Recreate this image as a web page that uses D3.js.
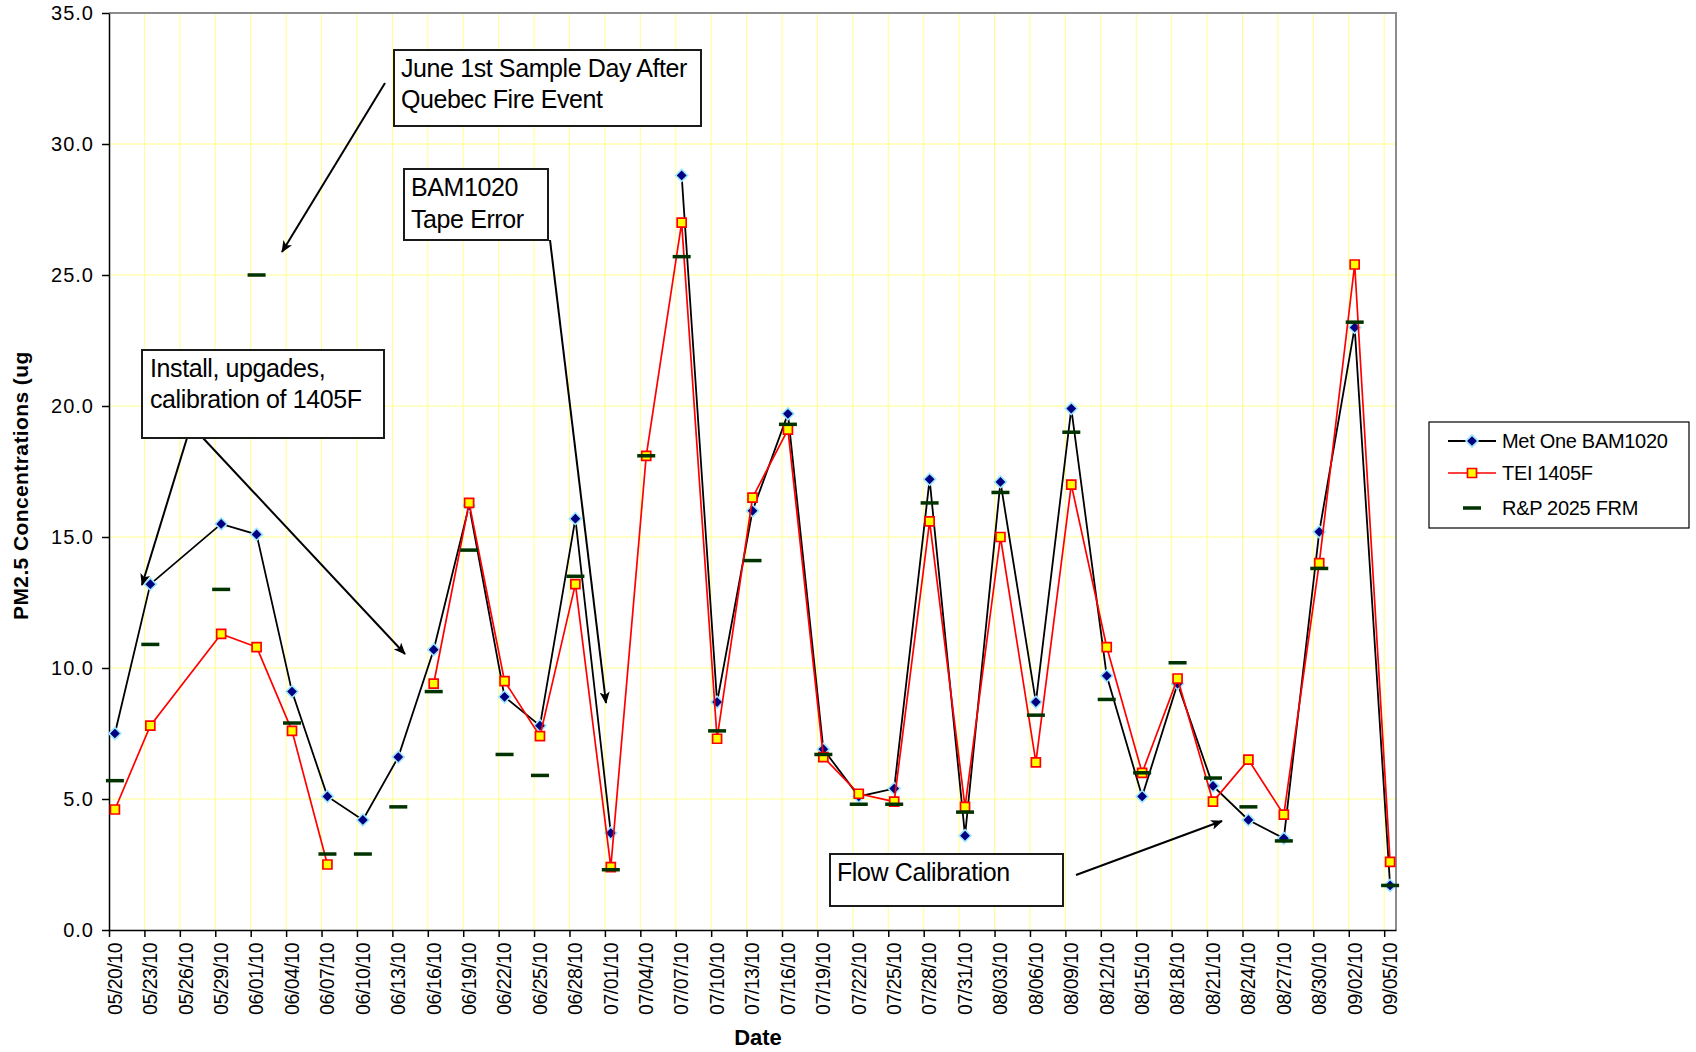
<!DOCTYPE html>
<html>
<head>
<meta charset="utf-8">
<script src="https://cdn.jsdelivr.net/npm/d3@7"></script>
<style>
	body { margin: 0; background: #fff; }
	svg text { font-family: "Liberation Sans", Arial, sans-serif; fill: #000; }
</style>
</head>
<body>
<svg id="chart" width="1696" height="1052"></svg>
<script>
"use strict";

// sample days (05/26 has no row at all, so lines run straight over it)
var sampleDates = ["05/20/10","05/23/10","05/29/10","06/01/10","06/04/10","06/07/10","06/10/10","06/13/10",
	"06/16/10","06/19/10","06/22/10","06/25/10","06/28/10","07/01/10","07/04/10","07/07/10","07/10/10",
	"07/13/10","07/16/10","07/19/10","07/22/10","07/25/10","07/28/10","07/31/10","08/03/10","08/06/10",
	"08/09/10","08/12/10","08/15/10","08/18/10","08/21/10","08/24/10","08/27/10","08/30/10","09/02/10","09/05/10"];

var bam1020 = [7.5,13.2,15.5,15.1,9.1,5.1,4.2,6.6,10.7,16.2,8.9,7.8,15.7,3.7,null,28.8,8.7,16.0,19.7,6.9,
	5.1,5.4,17.2,3.6,17.1,8.7,19.9,9.7,5.1,9.4,5.5,4.2,3.5,15.2,23.0,1.7];
var tei1405 = [4.6,7.8,11.3,10.8,7.6,2.5,null,null,9.4,16.3,9.5,7.4,13.2,2.4,18.1,27.0,7.3,16.5,19.1,6.6,
	5.2,4.9,15.6,4.7,15.0,6.4,17.0,10.8,6.0,9.6,4.9,6.5,4.4,14.0,25.4,2.6];
var frm2025 = [5.7,10.9,13.0,25.0,7.9,2.9,2.9,4.7,9.1,14.5,6.7,5.9,13.5,2.3,18.1,25.7,7.6,14.1,19.3,6.7,
	4.8,4.8,16.3,4.5,16.7,8.2,19.0,8.8,6.0,10.2,5.8,4.7,3.4,13.8,23.2,1.7];

var dateTicks = ["05/20/10","05/23/10","05/26/10","05/29/10","06/01/10","06/04/10","06/07/10","06/10/10",
	"06/13/10","06/16/10","06/19/10","06/22/10","06/25/10","06/28/10","07/01/10","07/04/10","07/07/10",
	"07/10/10","07/13/10","07/16/10","07/19/10","07/22/10","07/25/10","07/28/10","07/31/10","08/03/10",
	"08/06/10","08/09/10","08/12/10","08/15/10","08/18/10","08/21/10","08/24/10","08/27/10","08/30/10",
	"09/02/10","09/05/10"];
var valueTicks = [0, 5, 10, 15, 20, 25, 30, 35];
var seriesNames = ["Met One BAM1020", "TEI 1405F", "R&P 2025 FRM"];

var width = 1696, height = 1052;
var margin = {top: 13, right: 300, bottom: 122, left: 109};

var svg = d3.select('#chart');
var parse = d3.utcParse('%m/%d/%y');

var x = d3.scaleUtc()
	.domain([parse(dateTicks[0]), d3.utcDay.offset(parse(dateTicks[dateTicks.length - 1]), 1)])
	.range([margin.left, width - margin.right]);
var y = d3.scaleLinear()
	.domain([0, 35])
	.range([height - margin.bottom, margin.top]);

// points sit in the middle of their day
function mid(d) {
	return x(d3.utcHour.offset(parse(d), 12));
}

var rows = sampleDates.map(function(d, i) {
	return {date: d, bam: bam1020[i], tei: tei1405[i], frm: frm2025[i]};
});

//grid
var grid = svg.append('g').attr('class', 'grid')
	.attr('stroke', '#ffff8c').attr('stroke-width', 1);
grid.selectAll('.h').data(valueTicks.slice(1, -1)).enter().append('line')
	.attr('x1', x.range()[0]).attr('x2', x.range()[1])
	.attr('y1', function(d) { return y(d); }).attr('y2', function(d) { return y(d); });
grid.selectAll('.v').data(dateTicks.slice(1)).enter().append('line')
	.attr('x1', function(d) { return x(parse(d)); }).attr('x2', function(d) { return x(parse(d)); })
	.attr('y1', y(35)).attr('y2', y(0));

//top and right border
svg.append('path')
	.attr('d', 'M' + x.range()[0] + ',' + y(35) + 'H' + x.range()[1] + 'V' + y(0))
	.attr('fill', 'none').attr('stroke', '#8c8c8c').attr('stroke-width', 2);

//axes
var yAxis = svg.append('g')
	.attr('transform', 'translate(' + margin.left + ',0)')
	.call(d3.axisLeft(y).tickValues(valueTicks).tickFormat(d3.format('.1f')).tickSize(7).tickSizeOuter(0).tickPadding(8));
yAxis.selectAll('path, line').attr('stroke', '#000').attr('stroke-width', 1.5);
yAxis.selectAll('text')
	.attr('font-family', '"Liberation Sans", Arial, sans-serif')
	.attr('font-size', 20).attr('letter-spacing', 1).attr('fill', '#000');

var xAxis = svg.append('g')
	.attr('transform', 'translate(0,' + y(0) + ')')
	.call(d3.axisBottom(x).tickValues(dateTicks.map(parse)).tickFormat('').tickSize(7).tickSizeOuter(0));
xAxis.selectAll('path, line').attr('stroke', '#000').attr('stroke-width', 1.5);

svg.append('g').selectAll('text').data(dateTicks).enter().append('text')
	.attr('transform', function(d) { return 'translate(' + mid(d) + ',' + (y(0) + 13) + ') rotate(-90)'; })
	.attr('text-anchor', 'end')
	.attr('dy', '0.35em')
	.attr('font-size', 19.5)
	.attr('letter-spacing', -0.5)
	.text(function(d) { return d; });

//axis titles
svg.append('text')
	.attr('transform', 'translate(28,620) rotate(-90)')
	.attr('font-size', 21).attr('font-weight', 'bold').attr('letter-spacing', 0.4)
	.text('PM2.5 Concentrations (ug');
svg.append('text')
	.attr('x', 758).attr('y', 1045)
	.attr('text-anchor', 'middle')
	.attr('font-size', 22).attr('font-weight', 'bold')
	.text('Date');

//series
var diamond = d3.symbol().type(d3.symbolSquare).size(72);
var square = d3.symbol().type(d3.symbolSquare).size(81);

function lineFor(key) {
	return d3.line()
		.defined(function(d) { return d[key] !== null; })
		.x(function(d) { return mid(d.date); })
		.y(function(d) { return y(d[key]); });
}

var plot = svg.append('g').attr('class', 'series');

plot.append('path').datum(rows)
	.attr('d', lineFor('bam'))
	.attr('fill', 'none').attr('stroke', '#000').attr('stroke-width', 1.8);
plot.selectAll('.bam').data(rows.filter(function(d) { return d.bam !== null; })).enter().append('path')
	.attr('class', 'bam')
	.attr('d', diamond)
	.attr('transform', function(d) { return 'translate(' + mid(d.date) + ',' + y(d.bam) + ') rotate(45)'; })
	.attr('fill', '#000080').attr('stroke', '#9fe8ff').attr('stroke-width', 1.6);

plot.append('path').datum(rows)
	.attr('d', lineFor('tei'))
	.attr('fill', 'none').attr('stroke', '#ff0000').attr('stroke-width', 1.7);
plot.selectAll('.tei').data(rows.filter(function(d) { return d.tei !== null; })).enter().append('path')
	.attr('class', 'tei')
	.attr('d', square)
	.attr('transform', function(d) { return 'translate(' + mid(d.date) + ',' + y(d.tei) + ')'; })
	.attr('fill', '#ffff00').attr('stroke', '#ff0000').attr('stroke-width', 1.7);

plot.selectAll('.frm').data(rows).enter().append('rect')
	.attr('class', 'frm')
	.attr('x', function(d) { return mid(d.date) - 9; })
	.attr('y', function(d) { return y(d.frm) - 1.75; })
	.attr('width', 18).attr('height', 3.5)
	.attr('fill', '#003300');

//annotations
var notes = [
	{lines: ['June 1st Sample Day After', 'Quebec Fire Event'], box: [394, 50, 701, 126], tx: 401, ty: [77, 108],
		arrows: [[[385, 83], [282, 252]]]},
	{lines: ['BAM1020', 'Tape Error'], box: [404, 169, 548, 240], tx: 411, ty: [196, 228],
		arrows: [[[550, 240], [606, 703]]]},
	{lines: ['Install, upgades,', 'calibration of 1405F'], box: [142, 350, 384, 438], tx: 150, ty: [377, 408],
		arrows: [[[187, 438], [142, 585]], [[203, 438], [405, 654]]]},
	{lines: ['Flow Calibration'], box: [830, 854, 1063, 906], tx: 837, ty: [881],
		arrows: [[[1076, 875], [1222, 821]]]}
];

svg.append('defs').append('marker')
	.attr('id', 'arrow')
	.attr('viewBox', '0 0 12 10')
	.attr('refX', 11).attr('refY', 5)
	.attr('markerWidth', 12).attr('markerHeight', 10)
	.attr('markerUnits', 'userSpaceOnUse')
	.attr('orient', 'auto')
	.append('path')
	.attr('d', 'M0,0L12,5L0,10L3,5Z')
	.attr('fill', '#000');

var ann = svg.append('g').attr('class', 'notes');
notes.forEach(function(n) {
	n.arrows.forEach(function(a) {
		ann.append('line')
			.attr('x1', a[0][0]).attr('y1', a[0][1])
			.attr('x2', a[1][0]).attr('y2', a[1][1])
			.attr('stroke', '#000').attr('stroke-width', 2)
			.attr('marker-end', 'url(#arrow)');
	});
	ann.append('rect')
		.attr('x', n.box[0]).attr('y', n.box[1])
		.attr('width', n.box[2] - n.box[0]).attr('height', n.box[3] - n.box[1])
		.attr('fill', '#fff').attr('stroke', '#1a1a1a').attr('stroke-width', 2);
	n.lines.forEach(function(t, i) {
		ann.append('text')
			.attr('x', n.tx).attr('y', n.ty[i])
			.attr('font-size', 25).attr('letter-spacing', -0.4)
			.text(t);
	});
});

//legend
var legend = svg.append('g').attr('class', 'legend');
legend.append('rect')
	.attr('x', 1429).attr('y', 422).attr('width', 260).attr('height', 106)
	.attr('fill', '#fff').attr('stroke', '#000').attr('stroke-width', 1.2);
var legendY = [441, 473, 508];
seriesNames.forEach(function(name, i) {
	var g = legend.append('g').attr('transform', 'translate(1472,' + legendY[i] + ')');
	if(i === 0) {
		g.append('line').attr('x1', -24).attr('x2', 24).attr('stroke', '#000').attr('stroke-width', 1.8);
		g.append('path').attr('d', diamond).attr('transform', 'rotate(45)')
			.attr('fill', '#000080').attr('stroke', '#9fe8ff').attr('stroke-width', 1.6);
	} else if(i === 1) {
		g.append('line').attr('x1', -24).attr('x2', 24).attr('stroke', '#ff0000').attr('stroke-width', 1.7);
		g.append('path').attr('d', square)
			.attr('fill', '#ffff00').attr('stroke', '#ff0000').attr('stroke-width', 1.7);
	} else {
		g.append('rect').attr('x', -9).attr('y', -1.75).attr('width', 18).attr('height', 3.5).attr('fill', '#003300');
	}
	legend.append('text')
		.attr('x', 1502).attr('y', legendY[i])
		.attr('dy', '0.35em')
		.attr('font-size', 20).attr('letter-spacing', -0.3)
		.text(name);
});
</script>
</body>
</html>
